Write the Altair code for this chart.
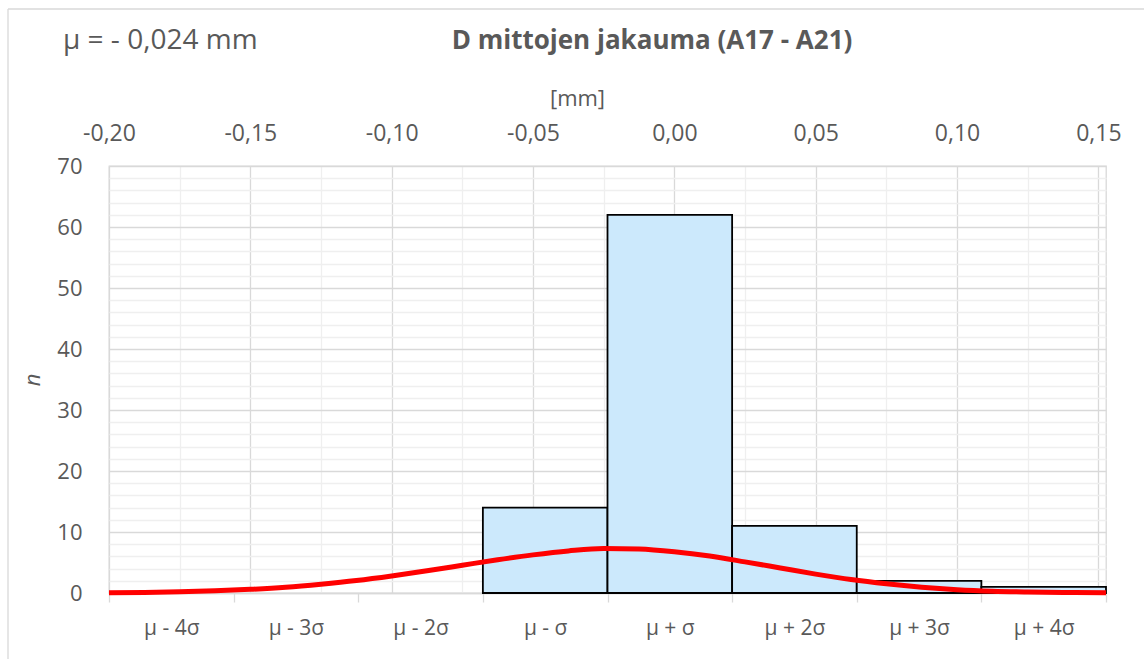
import altair as alt
import pandas as pd

# Histogram classes (bottom axis) and their counts
categories = ["μ - 4σ", "μ - 3σ", "μ - 2σ", "μ - σ", "μ + σ", "μ + 2σ", "μ + 3σ", "μ + 4σ"]
counts = [0, 0, 0, 14, 62, 11, 2, 1]

# Fitted normal curve, read along the top [mm] axis
curve_mm = [-0.200, -0.1875, -0.175, -0.1625, -0.150, -0.1375, -0.125, -0.1125,
            -0.100, -0.0875, -0.075, -0.0625, -0.050, -0.0375, -0.025, -0.0125,
            0.000, 0.0125, 0.025, 0.0375, 0.050, 0.0625, 0.075, 0.0875,
            0.100, 0.1125, 0.125, 0.1375, 0.1527]
curve_n = [0.05, 0.10, 0.20, 0.35, 0.60, 0.95, 1.45, 2.05,
           2.80, 3.65, 4.55, 5.45, 6.25, 6.90, 7.30, 7.20,
           6.75, 6.05, 5.10, 4.10, 3.10, 2.20, 1.50, 0.95,
           0.55, 0.30, 0.17, 0.09, 0.05]

# Axis tick positions (majors get labels and darker grid lines)
mm_ticks = [-0.200, -0.175, -0.150, -0.125, -0.100, -0.075, -0.050, -0.025,
            0.000, 0.025, 0.050, 0.075, 0.100, 0.125, 0.150]
n_ticks = [0, 2, 4, 6, 8, 10, 12, 14, 16, 18, 20, 22, 24, 26, 28, 30, 32, 34,
           36, 38, 40, 42, 44, 46, 48, 50, 52, 54, 56, 58, 60, 62, 64, 66, 68, 70]

title_text = "D mittojen jakauma (A17 - A21)"
mu_label = "μ = - 0,024 mm"
mm_title = "[mm]"
n_title = "n"

FONT = "Open Sans"
TEXT = "#595959"
MAJOR = "#d9d9d9"
MINOR = "#efefef"

W, H = 997, 427

hist_df = pd.DataFrame({"luokka": categories, "n": counts})
curve_df = pd.DataFrame({"mm": curve_mm, "n": curve_n})

y_scale = alt.Scale(domain=[0, 70], nice=False)

# Shared count axis (used by both layers so the merged axis stays enabled)
y_axis = alt.Axis(
    values=n_ticks,
    labelExpr="datum.value % 10 == 0 ? datum.label : ''",
    labelOverlap=False,
    ticks=False,
    tickSize=0,
    domain=False,
    grid=True,
    labelPadding=27,
    labelFont=FONT,
    labelFontSize=22,
    labelColor=TEXT,
    gridColor={"condition": {"test": "datum.value % 10 == 0", "value": MAJOR}, "value": MINOR},
    gridWidth=1.3,
    title=n_title,
    titleFont=FONT,
    titleFontSize=22,
    titleFontStyle="italic",
    titleFontWeight="normal",
    titleColor=TEXT,
    titlePadding=12,
)

bars = alt.Chart(hist_df).mark_bar(
    fill="#cce9fc", stroke="black", strokeWidth=1.8
).encode(
    x=alt.X(
        "luokka:N",
        sort=categories,
        scale=alt.Scale(paddingInner=0, paddingOuter=0),
        axis=alt.Axis(
            orient="bottom",
            title=None,
            labelAngle=0,
            grid=False,
            tickBand="extent",
            tickSize=9,
            tickColor=MAJOR,
            tickWidth=1.3,
            domainColor=MAJOR,
            domainWidth=1.5,
            labelPadding=15,
            labelFont=FONT,
            labelFontSize=21,
            labelColor=TEXT,
        ),
    ),
    y=alt.Y("n:Q", scale=y_scale, axis=y_axis),
    strokeOpacity=alt.condition("datum.n > 0", alt.value(1), alt.value(0)),
)

major_test = "abs(round(datum.value * 1000)) % 50 == 0"
mm_label = ("abs(round(datum.value * 1000)) % 50 == 0 ? "
            "(datum.value < -0.0001 ? '-' : '') + replace(format(abs(datum.value), '.2f'), '.', ',') : ''")

curve = alt.Chart(curve_df).mark_line(
    color="#ff0000", strokeWidth=5, interpolate="monotone", strokeCap="butt"
).encode(
    x=alt.X(
        "mm:Q",
        scale=alt.Scale(domain=[-0.200, 0.1527], nice=False, zero=False),
        axis=alt.Axis(
            orient="top",
            values=mm_ticks,
            labelExpr=mm_label,
            labelOverlap=False,
            labelFlush=False,
            ticks=False,
            tickSize=0,
            domain=False,
            grid=True,
            labelPadding=21,
            labelFont=FONT,
            labelFontSize=23,
            labelColor=TEXT,
            gridColor={"condition": {"test": major_test, "value": MAJOR}, "value": MINOR},
            gridWidth=1.3,
            title=mm_title,
            titleFont=FONT,
            titleFontSize=22,
            titleFontWeight="normal",
            titleColor=TEXT,
            titleX=468,
            titleAlign="center",
            titlePadding=12,
        ),
    ),
    y=alt.Y("n:Q", scale=y_scale, axis=y_axis),
)

# Chart-area border (top and left edges; the rest falls outside the page)
one = pd.DataFrame({"k": [0]})
frame_top = alt.Chart(one).mark_rule(color=MAJOR, strokeWidth=1.3).encode(
    x=alt.value(-101), x2=alt.value(1041), y=alt.value(-157)
)
frame_left = alt.Chart(one).mark_rule(color=MAJOR, strokeWidth=1.3).encode(
    x=alt.value(-101), y=alt.value(-157), y2=alt.value(499)
)

mu_text = alt.Chart(pd.DataFrame({"label": [mu_label]})).mark_text(
    align="left", baseline="middle", font=FONT, fontSize=28, color=TEXT
).encode(
    text="label:N", x=alt.value(-46), y=alt.value(-125)
)

title_mark = alt.Chart(pd.DataFrame({"label": [title_text]})).mark_text(
    align="center", baseline="middle", font=FONT, fontSize=26, fontWeight="bold", color=TEXT
).encode(
    text="label:N", x=alt.value(543), y=alt.value(-125)
)

chart = alt.layer(frame_top, frame_left, bars, curve, mu_text, title_mark).resolve_scale(
    x="independent"
).resolve_axis(
    x="independent"
).properties(
    width=W,
    height=H,
    autosize=alt.AutoSizeParams(type="none"),
    padding={"left": 109, "top": 166, "right": 38, "bottom": 66},
    background="white",
).configure_view(
    stroke=MAJOR, strokeWidth=1.3
)

chart.save("out.html", embed_options={"renderer": "svg", "actions": False})
